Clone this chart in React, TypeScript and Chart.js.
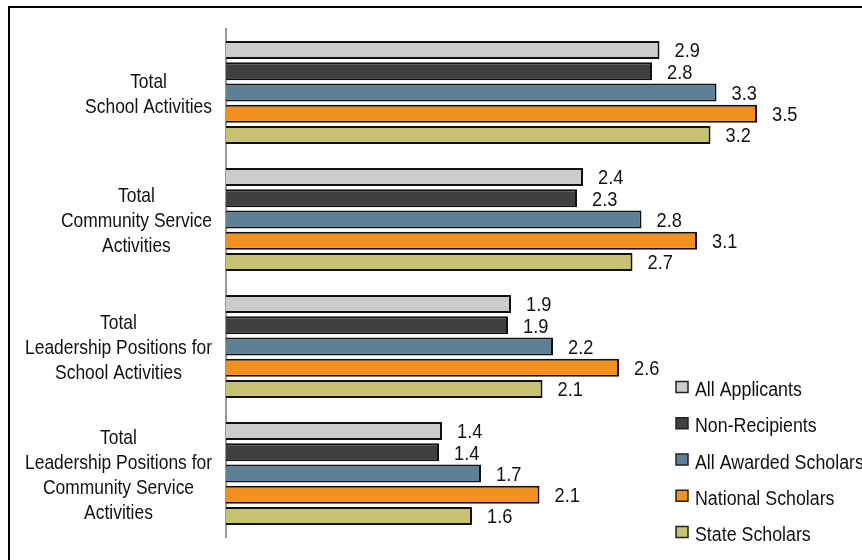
import React, { useEffect, useRef } from "react";
import { Chart, registerables } from "chart.js";

Chart.register(...registerables);

const categories: string[][] = [
  ["Total", "School Activities"],
  ["Total", "Community Service", "Activities"],
  ["Total", "Leadership Positions for", "School Activities"],
  ["Total", "Leadership Positions for", "Community Service", "Activities"],
];

const seriesNames = [
  "All Applicants",
  "Non-Recipients",
  "All Awarded Scholars",
  "National Scholars",
  "State Scholars",
];

// values; labels shown rounded to one decimal
const allApplicants = [2.89, 2.38, 1.9, 1.44];
const nonRecipients = [2.84, 2.34, 1.88, 1.42];
const allAwarded = [3.27, 2.77, 2.18, 1.7];
const nationalScholars = [3.54, 3.14, 2.62, 2.09];
const stateScholars = [3.23, 2.71, 2.11, 1.64];

const seriesColors = ["#CCCCCC", "#404040", "#5D8096", "#F2901F", "#C8C373"];

const FONT = '"Liberation Sans", Arial, sans-serif';

function drawText(
  ctx: CanvasRenderingContext2D,
  text: string,
  x: number,
  y: number,
  size: number,
  sx: number,
  align: CanvasTextAlign
) {
  ctx.save();
  ctx.font = `${size}px ${FONT}`;
  ctx.fillStyle = "#111111";
  ctx.textAlign = align;
  ctx.textBaseline = "alphabetic";
  ctx.translate(x, y);
  ctx.scale(sx, 1);
  ctx.fillText(text, 0, 0);
  ctx.restore();
}

function measure(ctx: CanvasRenderingContext2D, text: string, size: number, sx: number) {
  ctx.save();
  ctx.font = `${size}px ${FONT}`;
  const w = ctx.measureText(text).width * sx;
  ctx.restore();
  return w;
}

const textPlugin = {
  id: "customText",
  afterDatasetsDraw(chart: any) {
    const ctx: CanvasRenderingContext2D = chart.ctx;
    const size = 20.5;
    const sx = 0.89;
    const cap = size * 0.716;
    chart.data.datasets.forEach((ds: any, i: number) => {
      const meta = chart.getDatasetMeta(i);
      meta.data.forEach((bar: any, j: number) => {
        const p = bar.getProps(["x", "y"], true);
        const v = ds.data[j] as number;
        drawText(ctx, v.toFixed(1), p.x + 15, p.y + cap / 2, size, sx, "left");
      });
    });
  },
  afterDraw(chart: any) {
    const ctx: CanvasRenderingContext2D = chart.ctx;
    const area = chart.chartArea;
    const yScale = chart.scales.y;
    // category labels
    const cSize = 21;
    const cSx = 0.83;
    const cCap = cSize * 0.716;
    const lh = 25;
    categories.forEach((lines, i) => {
      const yc = yScale.getPixelForTick(i);
      let widest = 0;
      lines.forEach((l) => {
        widest = Math.max(widest, measure(ctx, l, cSize, cSx));
      });
      const cx = area.left - 14 - widest / 2;
      const n = lines.length;
      lines.forEach((l, k) => {
        const ly = yc + (k - (n - 1) / 2) * lh;
        drawText(ctx, l, cx, ly + cCap / 2, cSize, cSx, "center");
      });
    });
    // legend
    const lSize = 20;
    const lSx = 0.89;
    const lCap = lSize * 0.716;
    const n = chart.data.datasets.length;
    chart.data.datasets.forEach((ds: any, i: number) => {
      const rowY = area.bottom - 3 - (n - 1 - i) * 36.25;
      const bx = area.left + 450;
      const by = rowY - 2 - 5.5;
      ctx.save();
      ctx.fillStyle = ds.backgroundColor;
      ctx.fillRect(bx, by, 12, 11);
      ctx.strokeStyle = "#222222";
      ctx.lineWidth = 1.5;
      ctx.strokeRect(bx, by, 12, 11);
      ctx.restore();
      drawText(ctx, ds.label, area.left + 469, rowY + lCap / 2, lSize, lSx, "left");
    });
  },
};

export default function App() {
  const canvasRef = useRef<HTMLCanvasElement | null>(null);

  useEffect(() => {
    const canvas = canvasRef.current;
    if (!canvas) return;
    const seriesData = [allApplicants, nonRecipients, allAwarded, nationalScholars, stateScholars];
    const chart = new Chart(canvas, {
      type: "bar",
      data: {
        labels: categories.map((c) => c.join(" ")),
        datasets: seriesNames.map((name, i) => ({
          label: name,
          data: seriesData[i],
          backgroundColor: seriesColors[i],
          borderColor: "#111111",
          borderWidth: 2,
          borderSkipped: "start",
          categoryPercentage: 0.835,
          barPercentage: 0.85,
        })),
      },
      options: {
        indexAxis: "y",
        responsive: false,
        animation: false,
        devicePixelRatio: 1,
        layout: { padding: { top: 21, right: 44, bottom: 41, left: 0 } },
        plugins: {
          legend: { display: false },
          tooltip: { enabled: false },
        },
        scales: {
          x: {
            display: false,
            min: 0,
            max: 4,
          },
          y: {
            z: 1,
            grid: { display: false },
            border: { display: true, color: "#999999", width: 2 },
            ticks: { display: false },
            afterFit: (scale: any) => {
              scale.width = 216;
            },
          },
        },
      } as any,
      plugins: [textPlugin],
    });
    return () => chart.destroy();
  }, []);

  return (
    <div
      style={{
        position: "fixed",
        left: 0,
        top: 0,
        width: 862,
        height: 560,
        overflow: "hidden",
        background: "#ffffff",
      }}
    >
      <div
        style={{
          position: "absolute",
          left: 8,
          top: 6,
          width: 880,
          height: 600,
          border: "2px solid #000000",
          background: "#ffffff",
        }}
      >
        <canvas
          ref={canvasRef}
          width={860}
          height={570}
          style={{ display: "block", width: 860, height: 570 }}
        />
      </div>
    </div>
  );
}
